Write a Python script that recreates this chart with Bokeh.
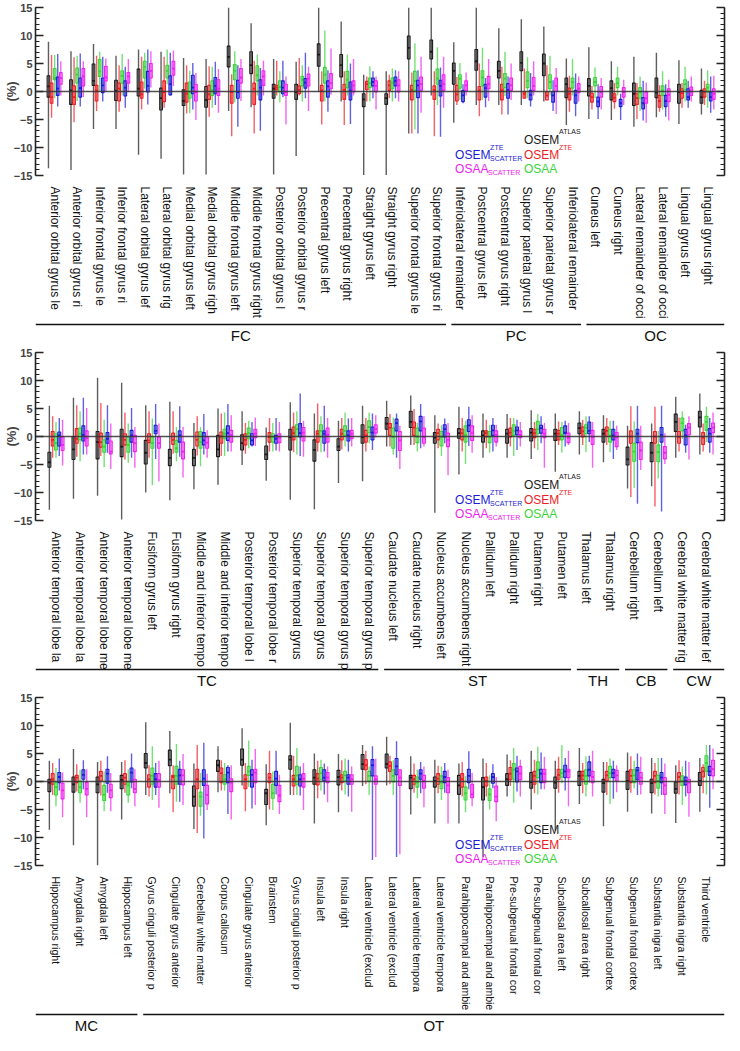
import numpy as np
from bokeh.plotting import figure
from bokeh.layouts import column
from bokeh.models import Range1d, LinearAxis, FixedTicker, Span
from bokeh.embed import file_html
from bokeh.resources import INLINE
from bokeh.core.properties import value

FONT = "Liberation Sans"
COLORS = ["#1a1a1a", "#ee1c25", "#3ad43a", "#1c1cd6", "#ee22ee"]
OFFSETS = [-0.274, -0.137, 0.0, 0.137, 0.274]
BOX_W = 0.12
MAJOR_TICKS = [-15, -10, -5, 0, 5, 10, 15]

# ---------------- Panel 1 ----------------
p1_labels = ["Anterior orbital gyrus le", "Anterior orbital gyrus ri", "Inferior frontal gyrus le",
             "Inferior frontal gyrus ri", "Lateral orbital gyrus lef", "Lateral orbital gyrus rig",
             "Medial orbital gyrus left", "Medial orbital gyrus righ", "Middle frontal gyrus left",
             "Middle frontal gyrus right", "Posterior orbital gyrus l", "Posterior orbital gyrus r",
             "Precentral gyrus left", "Precentral gyrus right", "Straight gyrus left",
             "Straight gyrus right", "Superior frontal gyrus le", "Superior frontal gyrus ri",
             "Inferiolateral remainder", "Postcentral gyrus left", "Postcentral gyrus right",
             "Superior parietal gyrus l", "Superior parietal gyrus r", "Inferiolateral remainder",
             "Cuneus left", "Cuneus right", "Lateral remainder of occi", "Lateral remainder of occi",
             "Lingual gyrus left", "Lingual gyrus right"]
p1_groups = ["FC", "PC", "OC"]
p1_group_sizes = [18, 6, 6]

p1_atlas_hi = [8.9, 7.2, 8.5, 6.4, 7.5, 7.1, 6.0, 5.8, 15.0, 12.2, 5.8, 5.3, 15.0, 12.5, 3.0, 3.6, 15.0, 15.0, 8.8, 15.0, 11.3, 12.9, 11.6, 5.9, 7.9, 5.4, 6.2, 6.9, 5.6, 4.1]
p1_atlas_q3 = [2.8, 2.1, 4.9, 2.0, 4.0, 0.6, 0.3, 0.9, 8.1, 7.1, 1.3, 1.3, 8.5, 6.6, -0.4, -0.4, 9.9, 9.2, 5.1, 7.5, 5.4, 7.1, 6.7, 2.4, 2.3, 1.9, 1.5, 2.4, 1.3, 0.2]
p1_atlas_med = [0.9, 0.2, 1.9, 0.1, 0.5, -1.2, -1.7, -1.5, 6.2, 4.7, 0.5, -0.1, 6.6, 4.7, -1.4, -1.2, 7.8, 7.1, 3.7, 5.4, 3.7, 5.1, 5.0, 1.3, 1.0, 0.6, -0.4, -0.2, -0.1, -1.0]
p1_atlas_q1 = [-1.0, -2.3, 1.1, -1.6, -0.8, -3.3, -2.5, -2.8, 4.4, 3.2, -1.2, -1.4, 4.5, 2.6, -2.7, -2.3, 5.8, 5.8, 1.3, 3.8, 2.4, 3.7, 2.8, -1.1, -0.8, -1.5, -2.5, -1.1, -2.1, -2.1]
p1_atlas_lo = [-13.7, -14.0, -6.7, -6.7, -11.3, -12.0, -14.8, -14.8, -3.5, -2.8, -14.8, -11.5, -0.1, -1.8, -14.9, -14.9, -7.5, -0.7, -5.6, -2.4, -2.4, -2.4, -1.8, -6.0, -4.9, -5.1, -6.3, -4.6, -5.8, -4.1]

p1_zte_hi = [6.5, 6.1, 6.4, 4.7, 6.2, 6.2, 4.7, 4.5, 3.1, 5.5, 5.5, 6.0, 3.6, 3.6, 2.7, 3.0, 3.4, 3.6, 2.6, 5.0, 4.4, 4.1, 4.7, 2.8, 1.0, 1.5, 1.5, 1.1, 1.5, 1.9]
p1_zte_q3 = [1.5, 1.0, 1.1, 1.5, 1.7, 1.9, 1.5, 1.1, 1.1, 1.5, 1.1, 1.0, 1.1, 1.3, 1.8, 1.9, 1.1, 1.0, 1.1, 0.9, 1.3, 0.0, -0.1, 0.6, -0.3, -0.4, -0.4, -0.7, 0.5, 0.5]
p1_zte_med = [-1.0, -1.0, 0.2, 0.5, -0.5, -0.1, -0.4, -0.5, -0.1, 0.5, 0.7, 0.3, 0.2, 0.3, 1.3, 1.1, 0.3, 0.3, -0.5, 0.2, 0.2, -0.4, -0.7, -0.4, -1.0, -1.1, -1.2, -1.7, -0.3, -0.1]
p1_zte_q1 = [-2.1, -2.3, -1.7, -1.7, -1.2, -1.8, -1.9, -1.4, -2.1, -2.3, 0.3, -0.4, -1.7, -1.4, 0.3, 0.2, -1.5, -1.4, -1.7, -1.5, -1.5, -1.2, -1.5, -1.5, -1.9, -1.8, -2.3, -2.8, -1.2, -1.0]
p1_zte_lo = [-4.7, -5.5, -3.5, -3.6, -3.2, -2.9, -3.9, -4.5, -8.0, -7.5, -0.7, -0.7, -5.9, -6.0, -1.8, -1.2, -7.5, -8.0, -2.4, -4.4, -4.1, -1.2, -1.2, -3.6, -3.2, -3.1, -4.9, -3.6, -2.9, -2.4]

p1_osaa_hi = [6.5, 6.4, 7.1, 6.7, 6.9, 7.5, 3.7, 4.4, 7.2, 6.6, 3.6, 4.7, 10.9, 6.6, 4.5, 4.1, 8.6, 7.9, 5.1, 7.8, 7.1, 6.1, 6.4, 5.8, 4.3, 4.4, 2.7, 3.6, 4.4, 3.8]
p1_osaa_q3 = [4.1, 4.2, 5.7, 3.7, 5.4, 4.7, 1.7, 1.9, 4.8, 4.6, 1.9, 2.7, 4.3, 3.6, 2.4, 2.4, 3.6, 4.0, 3.0, 3.7, 3.2, 3.5, 3.0, 2.4, 2.5, 2.4, 0.7, 1.0, 2.1, 1.3]
p1_osaa_med = [2.4, 3.0, 3.6, 2.8, 4.4, 3.7, -0.1, 0.3, 3.7, 2.9, 0.8, 2.1, 3.0, 2.1, 1.5, 1.6, 1.9, 2.3, 2.3, 2.5, 2.3, 1.9, 1.7, 1.7, 1.7, 1.5, -0.1, 0.2, 1.3, 0.7]
p1_osaa_q1 = [2.1, 1.5, 2.7, 1.5, 2.4, 2.4, -1.2, -0.7, 2.1, 1.9, -0.1, 1.0, 1.5, 0.7, 0.7, 0.5, 0.2, 1.3, 0.6, 1.0, 0.7, 0.7, 0.5, 0.6, 1.0, 0.7, -1.2, -0.7, 0.3, -0.1]
p1_osaa_lo = [-1.2, -1.7, -0.1, -0.7, 0.5, 1.3, -3.9, -2.9, -1.9, -0.7, -1.9, -1.8, -1.8, -0.7, -1.8, -1.8, -6.8, -2.4, -1.5, -1.5, -0.8, -1.2, -0.7, -0.7, -1.2, -0.7, -3.5, -3.2, -1.8, -2.9]

p1_zsc_hi = [6.7, 6.8, 6.2, 4.4, 7.5, 6.9, 5.1, 5.3, 4.7, 4.2, 5.5, 6.9, 3.8, 5.0, 3.6, 3.8, 3.8, 4.3, 1.3, 2.4, 2.7, 3.3, 2.0, 3.2, 1.3, -0.4, 1.9, 1.3, 1.9, 2.7]
p1_zsc_q3 = [2.6, 2.4, 2.4, 1.9, 3.6, 2.8, 2.9, 2.5, 2.0, 2.1, 1.9, 2.3, 1.9, 1.7, 2.4, 2.6, 2.0, 2.0, 0.2, 1.3, 1.4, 0.2, 0.0, 0.2, -1.0, -1.4, -1.1, -0.7, 0.5, -0.1]
p1_zsc_med = [0.5, 0.6, 1.1, 0.7, 1.0, 1.3, 0.7, 1.0, -0.1, 0.7, 0.7, 1.6, 0.9, 0.2, 1.7, 1.9, 1.1, 1.0, -0.7, 0.6, 0.3, -0.6, -0.7, -0.7, -1.8, -2.1, -2.1, -1.7, -1.0, -1.0]
p1_zsc_q1 = [-0.7, -1.0, -0.2, -0.8, -0.1, -0.6, -0.4, -0.4, -1.2, -1.5, -0.4, 0.6, -1.0, -1.5, 1.0, 1.0, -1.1, -0.8, -1.8, -1.0, -1.2, -1.5, -1.9, -2.1, -2.7, -2.7, -3.1, -2.7, -1.5, -1.7]
p1_zsc_lo = [-2.7, -2.7, -1.8, -2.9, -2.3, -0.7, -3.2, -2.4, -6.3, -7.0, -1.0, -1.2, -3.6, -5.8, -1.2, -1.2, -7.5, -8.1, -2.1, -2.8, -4.1, -2.7, -3.5, -4.4, -4.9, -5.1, -5.2, -4.5, -2.9, -3.8]

p1_asc_hi = [5.4, 5.4, 5.9, 5.8, 7.2, 7.3, 3.3, 4.0, 5.8, 5.5, 2.7, 4.4, 7.7, 5.8, 2.7, 3.6, 6.2, 6.2, 3.4, 5.8, 5.0, 5.4, 4.2, 2.7, 2.4, 2.1, 1.6, 2.1, 2.7, 2.8]
p1_asc_q3 = [3.4, 4.1, 4.5, 3.4, 5.0, 5.4, 1.3, 2.1, 4.1, 3.7, 1.3, 3.1, 3.2, 1.9, 1.9, 2.1, 2.6, 3.0, 1.9, 2.7, 2.4, 2.5, 2.4, 1.4, 0.9, 0.7, -0.1, 0.5, 0.8, 0.5]
p1_asc_med = [2.4, 2.7, 2.5, 2.7, 3.7, 4.1, -0.1, 0.5, 2.5, 2.7, -0.1, 2.3, 1.5, 1.1, 1.0, 1.1, 1.3, 1.3, 1.1, 1.3, 1.1, 1.0, 1.0, 0.5, -0.1, -0.1, -1.2, -0.6, 0.0, -0.4]
p1_asc_q1 = [1.3, 1.0, 1.9, 1.5, 2.4, 2.9, -1.7, -0.7, 1.5, 1.1, -0.7, 1.0, 0.5, -0.1, -0.1, -0.1, 0.2, 0.2, 0.2, 0.5, 0.2, 0.2, 0.0, -0.2, -1.0, -1.0, -2.1, -1.8, -0.7, -1.4]
p1_asc_lo = [-0.7, -1.0, -0.1, -0.1, 0.7, 1.0, -5.1, -3.8, -1.7, -0.7, -5.9, -3.5, -0.6, -0.7, -3.2, -1.8, -3.8, -2.9, -0.7, -1.7, -1.5, -0.7, -4.0, -1.8, -3.2, -2.4, -5.6, -5.2, -1.8, -3.2]

# ---------------- Panel 2 ----------------
p2_labels = ["Anterior temporal lobe la", "Anterior temporal lobe la", "Anterior temporal lobe me",
             "Anterior temporal lobe me", "Fusiform gyrus left", "Fusiform gyrus right",
             "Middle and inferior tempo", "Middle and inferior tempo", "Posterior temporal lobe l",
             "Posterior temporal lobe r", "Superior temporal gyrus", "Superior temporal gyrus",
             "Superior temporal gyrus p", "Superior temporal gyrus p", "Caudate nucleus left",
             "Caudate nucleus right", "Nucleus accumbens left", "Nucleus accumbens right",
             "Pallidum left", "Pallidum right", "Putamen right", "Putamen left", "Thalamus left",
             "Thalamus right", "Cerebellum right", "Cerebellum left", "Cerebral white matter rig",
             "Cerebral white matter lef"]
p2_groups = ["TC", "ST", "TH", "CB", "CW"]
p2_group_sizes = [14, 8, 2, 2, 2]

p2_atlas_hi = [5.5, 6.9, 10.5, 9.6, 5.6, 6.2, 2.4, 5.0, 4.5, 1.6, 6.1, 4.1, 2.8, 5.5, 6.4, 7.3, 3.8, 5.3, 4.1, 4.0, 4.7, 4.1, 4.5, 3.8, 1.9, 2.3, 7.1, 7.7]
p2_atlas_q3 = [-2.8, 0.0, 0.9, 1.3, -0.7, -2.3, -2.3, 0.2, 0.3, -1.7, 1.3, -0.6, -0.4, 2.1, 3.4, 4.5, 0.7, 1.4, 1.0, 1.3, 1.4, 1.3, 2.4, 1.3, -1.9, -1.1, 4.0, 4.5]
p2_atlas_med = [-4.6, -2.3, -1.0, -1.8, -2.9, -3.8, -3.8, -2.3, -1.2, -3.2, -0.1, -2.4, -1.8, -0.1, 2.3, 2.6, -0.2, 0.6, 0.2, 0.5, 0.7, 0.5, 1.5, 0.5, -4.1, -2.9, 2.6, 3.4]
p2_atlas_q1 = [-5.5, -4.1, -4.0, -3.6, -4.9, -5.2, -5.2, -3.6, -2.4, -4.1, -2.4, -4.4, -2.5, -1.2, 1.3, 1.6, -1.2, -0.3, -1.0, -1.2, -0.8, -0.7, 0.5, -1.0, -5.1, -4.5, 0.9, 1.7]
p2_atlas_lo = [-13.1, -11.1, -10.6, -14.8, -10.0, -11.4, -9.4, -8.6, -5.1, -7.9, -11.3, -13.0, -8.3, -8.0, -1.8, -1.5, -13.6, -6.8, -3.8, -3.8, -4.0, -6.3, -3.2, -4.6, -9.3, -8.9, -3.8, -3.2]

p2_zte_hi = [3.6, 5.6, 6.0, 4.3, 4.5, 4.5, 3.6, 4.1, 2.4, 3.3, 4.3, 5.9, 3.3, 3.3, 4.0, 4.9, 2.3, 3.3, 3.0, 3.3, 2.6, 2.7, 3.0, 3.3, 5.4, 5.3, 3.4, 2.3]
p2_zte_q3 = [0.9, 1.4, 0.6, 0.5, 0.5, 0.6, 0.8, 0.8, 0.5, 0.7, 1.7, 1.0, 1.3, 1.1, 2.3, 2.6, 1.3, 1.3, 1.0, 1.5, 1.3, 1.1, 1.7, 1.7, 1.0, 0.9, 0.9, 0.7]
p2_zte_med = [-0.6, -0.4, -1.0, -0.6, -0.7, -0.6, -0.6, 0.0, -0.6, -0.1, 0.6, 0.5, 0.5, 0.2, 1.6, 1.6, 0.6, 0.6, 0.6, 0.7, 0.6, 0.5, 0.9, 1.0, 0.0, 0.0, -0.1, -0.2]
p2_zte_q1 = [-1.7, -1.2, -1.9, -1.5, -1.1, -1.4, -1.7, -1.2, -1.5, -1.0, -0.6, -1.0, -0.6, -1.0, 0.2, 0.2, -0.6, -0.6, -0.1, -0.1, -0.2, -0.6, -0.1, 0.0, -1.2, -1.2, -1.2, -1.4]
p2_zte_lo = [-3.8, -3.6, -3.5, -4.1, -3.8, -3.1, -3.4, -3.5, -3.1, -2.7, -2.8, -2.7, -2.3, -2.7, -1.8, -1.5, -2.1, -2.7, -2.1, -1.8, -2.1, -1.5, -1.5, -1.5, -10.8, -12.5, -2.7, -2.7]

p2_osaa_hi = [2.6, 4.5, 3.0, 2.3, 3.2, 1.7, 1.7, 4.3, 2.8, 2.4, 4.5, 3.6, 4.3, 4.3, 3.4, 2.4, 2.0, 2.8, 2.1, 3.3, 4.0, 2.6, 3.6, 2.8, 2.7, 1.0, 4.5, 5.3]
p2_osaa_q3 = [0.5, 1.5, -0.6, -0.1, 0.0, -0.7, 0.9, 1.3, 1.5, 0.5, 2.1, 2.1, 1.9, 2.8, 1.5, 1.5, 0.9, 1.9, 0.9, 2.1, 2.7, 1.6, 2.1, 1.3, -1.2, -1.5, 3.3, 3.6]
p2_osaa_med = [-1.2, 0.5, -1.8, -1.5, -1.2, -2.1, -1.0, 0.5, 0.6, -0.1, 1.3, 1.0, 1.0, 1.7, -0.1, 0.0, -0.1, 0.3, -0.1, 1.0, 1.3, 0.3, 1.6, 0.2, -2.7, -2.8, 2.4, 2.6]
p2_osaa_q1 = [-2.4, -0.6, -2.8, -2.8, -2.1, -2.8, -2.1, -0.4, -0.4, -1.0, 0.0, -0.1, 0.2, 0.7, -2.1, -1.1, -1.7, -1.0, -1.1, 0.2, 0.5, -0.6, 0.5, -1.0, -4.4, -4.5, 1.0, 1.1]
p2_osaa_lo = [-3.8, -4.4, -5.5, -4.7, -8.7, -4.4, -5.3, -3.5, -2.1, -2.7, -3.2, -2.8, -1.8, -1.2, -3.2, -2.7, -3.5, -4.9, -2.9, -3.5, -2.4, -2.9, -2.8, -2.8, -9.2, -7.5, -0.4, -1.0]

p2_zsc_hi = [3.3, 6.9, 5.6, 5.1, 5.8, 5.4, 4.0, 5.8, 2.6, 3.3, 7.7, 5.5, 3.2, 4.1, 4.1, 5.8, 3.2, 5.3, 3.3, 3.0, 3.6, 2.8, 3.6, 2.8, 5.5, 5.5, 2.1, 3.3]
p2_zsc_q3 = [0.8, 1.9, 0.7, 1.1, 2.0, 1.0, 0.7, 1.9, 0.5, 0.2, 2.3, 1.0, 1.0, 1.7, 3.1, 3.6, 2.1, 3.0, 2.0, 1.7, 2.0, 1.9, 2.6, 1.3, 1.3, 1.6, 1.3, 1.4]
p2_zsc_med = [0.2, 0.3, -0.4, 0.2, 1.0, 0.2, -0.7, 0.6, -0.7, -0.4, 0.6, 0.5, 0.2, 0.7, 2.4, 2.7, 1.3, 2.0, 1.1, 1.1, 1.5, 0.7, 1.0, 0.2, 0.5, 0.3, 0.2, 0.5]
p2_zsc_q1 = [-1.7, -0.8, -1.2, -1.0, 0.5, -1.0, -1.5, -0.7, -1.5, -1.2, -0.1, -1.2, -0.8, -0.6, 1.0, 1.0, -0.1, 0.9, 0.2, 0.3, 0.6, 0.5, 0.5, -0.6, -1.1, -1.0, -1.5, -1.0]
p2_zsc_lo = [-3.5, -3.2, -2.9, -3.8, -4.0, -3.6, -3.2, -2.7, -1.8, -2.5, -3.5, -2.7, -2.7, -2.4, -3.8, -2.1, -1.2, -1.7, -2.7, -2.4, -1.2, -1.8, -1.0, -4.0, -12.0, -13.4, -2.9, -2.9]

p2_asc_hi = [3.0, 5.1, 2.3, 1.7, 2.3, 1.7, 1.1, 3.8, 3.4, 2.6, 2.8, 3.3, 3.3, 3.8, 1.9, 3.6, 2.4, 3.8, 2.1, 2.6, 2.4, 2.4, 2.6, 1.9, 1.9, 0.6, 3.6, 4.3]
p2_asc_q3 = [-0.1, 1.0, -0.8, 0.2, -0.1, -1.0, -0.1, 1.1, 1.3, 0.5, 1.6, 1.5, 1.1, 2.1, 0.9, 1.5, 0.6, 1.9, 1.0, 1.0, 1.3, 0.6, 1.1, 0.7, -1.0, -1.8, 2.3, 2.4]
p2_asc_med = [-1.5, -0.3, -2.7, -1.2, -1.2, -2.7, -1.1, 0.3, 0.5, -0.2, 0.7, 0.3, 0.5, 1.3, -0.7, -0.1, -0.6, 0.6, 0.3, 0.3, 0.5, -0.2, -0.1, -0.1, -2.5, -2.9, 1.6, 1.6]
p2_asc_q1 = [-2.5, -1.7, -3.1, -2.7, -2.1, -4.0, -2.1, -1.0, -0.2, -1.1, -0.8, -1.0, -0.4, 0.6, -2.5, -1.2, -1.8, -0.7, -1.0, -0.2, -0.2, -1.1, -1.4, -1.8, -4.1, -4.0, 0.3, 0.7]
p2_asc_lo = [-5.2, -3.2, -5.8, -5.6, -8.0, -7.3, -3.8, -2.7, -1.7, -2.7, -3.6, -3.8, -1.8, -0.2, -5.8, -1.8, -6.9, -2.9, -1.8, -1.8, -5.6, -1.5, -5.6, -2.4, -6.0, -4.9, -4.1, -3.2]

# ---------------- Panel 3 ----------------
p3_labels = ["Hippocampus right", "Amygdala right", "Amygdala left", "Hippocampus left",
             "Gyrus cinguli posterior p", "Cingulate gyrus anterior", "Cerebellar white matter",
             "Corpus callosum", "Cingulate gyrus anterior", "Brainstem", "Gyrus cinguli posterior p",
             "Insula left", "Insula right", "Lateral ventricle (exclud", "Lateral ventricle (exclud",
             "Lateral ventricle tempora", "Lateral ventricle tempora", "Parahippocampal and ambie",
             "Parahippocampal and ambie", "Pre-subgenual frontal cor", "Pre-subgenual frontal cor",
             "Subcallosal area left", "Subcallosal area right", "Subgenual frontal cortex",
             "Subgenual frontal cortex", "Substantia nigra left", "Substantia nigra right",
             "Third ventricle"]
p3_groups = ["MC", "OT"]
p3_group_sizes = [4, 24]

p3_atlas_hi = [3.7, 5.8, 3.5, 3.5, 10.6, 9.0, 3.2, 6.3, 9.5, 3.1, 10.5, 5.0, 4.9, 6.5, 8.0, 4.5, 3.9, 3.2, 4.1, 4.8, 5.5, 3.7, 6.0, 3.5, 5.2, 4.2, 2.9, 4.2]
p3_atlas_q3 = [0.4, 0.8, 0.8, 1.1, 5.0, 5.6, -0.8, 3.8, 5.8, -1.4, 4.6, 2.1, 2.0, 4.8, 4.9, 1.1, 0.8, 1.1, 0.7, 1.4, 1.6, 0.8, 1.8, 0.4, 1.8, 0.4, -0.1, 1.6]
p3_atlas_med = [-0.2, -0.5, -0.5, 0.3, 3.3, 3.9, -2.7, 2.9, 3.9, -2.1, 3.9, 0.7, 0.8, 3.1, 3.1, 0.7, 0.1, -0.7, -1.0, 0.4, -0.1, -0.2, 1.0, -0.3, 0.1, -0.3, -1.3, 0.1]
p3_atlas_q1 = [-1.8, -1.9, -2.0, -1.3, 2.4, 2.8, -4.4, 1.8, 2.9, -4.1, 2.2, -0.5, -0.6, 2.2, 2.4, -1.3, -1.0, -2.3, -3.3, -0.7, -1.2, -1.2, -0.7, -1.9, -1.4, -2.0, -2.1, -0.7]
p3_atlas_lo = [-8.6, -11.4, -15.0, -6.8, -2.4, -2.1, -8.5, -1.9, -0.7, -7.8, -2.4, -7.5, -5.5, -0.8, -0.7, -5.9, -7.5, -7.5, -13.5, -2.7, -5.0, -8.8, -4.0, -8.0, -5.4, -5.7, -7.4, -5.4]

p3_zte_hi = [3.3, 3.1, 3.7, 3.8, 2.9, 2.9, 6.5, 3.8, 3.3, 5.5, 4.6, 3.7, 3.8, 5.5, 4.6, 3.2, 2.8, 3.5, 3.3, 3.8, 3.9, 4.4, 3.3, 3.5, 4.5, 3.3, 3.8, 3.1]
p3_zte_q3 = [1.4, 1.1, 1.8, 1.4, 1.2, 1.1, 2.2, 2.4, 1.2, 1.4, 1.1, 1.4, 1.2, 3.9, 3.5, 1.1, 1.4, 1.4, 0.8, 2.5, 1.8, 2.2, 1.8, 1.8, 2.1, 1.8, 1.6, 2.5]
p3_zte_med = [0.4, 0.7, 1.0, 0.7, 0.4, 0.8, 0.4, 1.5, 0.4, 0.7, 0.4, 0.5, 0.7, 2.9, 2.8, 0.4, 0.5, 0.4, 0.1, 1.4, 1.0, 1.2, 1.1, 1.1, 1.0, 1.0, 0.8, 1.8]
p3_zte_q1 = [-0.5, -0.2, 0.1, -0.5, -1.0, -1.3, -1.3, -0.2, -1.3, -0.2, -0.8, -0.6, -0.2, 2.1, 1.8, -0.5, -0.5, -1.0, -0.8, 0.3, -0.5, 0.4, 0.3, 0.1, -0.2, -0.2, -0.1, 0.8]
p3_zte_lo = [-2.4, -1.8, -2.5, -2.0, -2.7, -5.5, -9.2, -1.6, -5.3, -5.0, -2.4, -3.0, -1.6, -0.5, -0.5, -2.0, -2.1, -2.7, -2.7, -0.8, -2.1, -2.0, -2.1, -2.4, -2.0, -2.3, -2.3, -2.1]

p3_osaa_hi = [2.4, 2.1, 1.8, 2.2, 6.3, 6.7, 1.5, 3.3, 7.3, 1.8, 6.0, 3.9, 4.1, 2.7, 3.8, 2.1, 2.7, 1.0, 1.1, 6.0, 6.2, 6.5, 4.5, 4.1, 3.7, 4.2, 2.7, 6.5]
p3_osaa_q3 = [-0.2, 0.1, -0.7, -0.2, 2.4, 2.7, -1.9, 1.2, 2.7, -0.5, 2.7, 2.5, 1.8, 1.8, 2.1, 0.8, 1.0, -1.0, -1.3, 3.2, 3.5, 2.2, 2.1, 2.7, 2.1, 1.1, 1.0, 4.6]
p3_osaa_med = [-1.0, -1.0, -2.4, -0.7, 1.0, 1.0, -2.7, 0.4, 1.8, -2.1, 1.1, 1.5, 1.1, 1.0, 1.0, -0.2, -0.2, -2.1, -2.3, 2.1, 2.1, 1.5, 1.0, 1.5, 1.1, 0.1, 0.1, 3.3]
p3_osaa_q1 = [-2.4, -2.0, -3.4, -2.4, -0.5, -0.5, -4.4, -0.5, 1.1, -3.0, -0.5, 0.4, 0.1, 0.1, -0.1, -1.0, -1.3, -3.3, -3.4, 0.4, 0.7, 0.8, -0.5, 0.7, -0.2, -1.2, -0.7, 1.8]
p3_osaa_lo = [-4.4, -3.8, -5.3, -3.8, -3.3, -3.6, -6.1, -1.6, -1.0, -5.1, -2.4, -1.6, -2.3, -2.4, -2.4, -3.0, -3.3, -5.5, -5.0, -3.8, -2.3, -0.3, -2.7, -4.0, -1.2, -2.7, -4.2, -2.3]

p3_zsc_hi = [4.1, 3.8, 4.5, 5.0, 3.3, 3.7, 6.9, 2.9, 3.9, 5.5, 2.7, 3.2, 3.9, 6.3, 7.2, 3.5, 3.3, 5.4, 3.1, 4.6, 5.2, 4.2, 4.6, 3.7, 5.0, 4.2, 3.7, 6.5]
p3_zsc_q3 = [1.6, 2.1, 2.2, 2.4, 1.4, 2.2, 2.1, 2.5, 2.1, 1.8, 1.2, 2.1, 1.2, 3.9, 4.1, 2.1, 1.8, 2.2, 1.4, 2.4, 2.2, 2.9, 3.5, 2.2, 2.5, 1.6, 0.8, 2.7]
p3_zsc_med = [0.8, 1.2, 1.4, 1.6, 0.4, 1.1, 0.5, 1.6, 1.2, 0.5, 0.4, 0.7, 0.7, 2.9, 2.7, 1.4, 0.8, 1.0, 0.8, 1.8, 1.4, 1.8, 2.1, 1.5, 2.0, 0.7, 0.1, 1.8]
p3_zsc_q1 = [-0.2, 0.4, -0.3, -0.1, -1.0, -0.5, -0.7, -0.2, -1.0, -0.7, -0.8, 0.1, -0.5, 1.0, 1.2, 0.4, -0.2, -0.2, -0.3, -0.1, -0.2, 0.7, 1.0, 0.7, 0.3, -0.2, -0.6, 1.1]
p3_zsc_lo = [-1.6, -1.4, -2.0, -1.2, -2.4, -3.6, -10.2, -5.8, -4.8, -2.3, -2.5, -2.3, -2.7, -14.0, -13.5, -2.1, -2.0, -1.4, -1.2, -1.8, -1.4, -1.6, -0.2, -3.1, -2.4, -2.4, -2.7, -4.7]

p3_asc_hi = [1.6, 2.2, 1.5, 2.2, 3.7, 4.9, 1.4, 2.9, 5.8, 1.2, 3.3, 2.7, 2.7, 4.1, 2.1, 2.7, 2.1, 1.5, 0.8, 3.9, 4.4, 5.5, 5.5, 2.9, 4.4, 3.2, 3.5, 5.9]
p3_asc_q3 = [-0.3, -0.2, -0.5, 0.4, 1.4, 2.1, -0.7, 0.5, 2.2, -0.7, 1.4, 1.6, 1.2, 1.0, 2.1, 1.1, 0.7, -0.5, -0.8, 2.7, 2.2, 2.2, 1.8, 2.0, 1.6, 0.7, 0.4, 3.8]
p3_asc_med = [-1.6, -1.3, -1.6, -1.3, 0.3, 1.1, -2.4, -0.2, 1.6, -2.5, 0.5, 0.7, 0.4, 0.4, 0.7, 0.1, -0.7, -2.3, -2.7, 1.4, 1.4, 1.8, 0.8, 1.1, 0.7, -0.7, -0.2, 2.2]
p3_asc_q1 = [-3.1, -2.4, -2.9, -2.0, -1.0, -0.6, -4.0, -1.8, -0.2, -3.6, -1.0, -0.2, -0.5, -0.5, -0.7, -1.2, -2.0, -2.9, -3.6, 0.3, -0.2, 0.7, -0.2, 0.1, -0.5, -2.3, -2.0, 1.0]
p3_asc_lo = [-6.4, -6.4, -5.3, -4.4, -4.7, -4.2, -5.1, -6.8, -4.2, -5.8, -5.1, -3.7, -5.4, -13.5, -13.0, -4.6, -7.5, -4.4, -7.1, -2.7, -1.4, -4.4, -2.7, -1.9, -2.3, -5.8, -6.3, -1.4]

# legend entries: (main text, superscript, subscript, colour index, x fraction, y value)
legend_entries = [
    ("OSEM", "ATLAS", None, 0, 0.709, -8.6),
    ("OSEM", "ZTE", None, 1, 0.709, -11.4),
    ("OSAA", None, None, 2, 0.709, -13.9),
    ("OSEM", "ZTE", "SCATTER", 3, 0.609, -11.4),
    ("OSAA", None, "SCATTER", 4, 0.609, -13.9),
]

W = 730
HA = 182
HB = 163
ML = 30
MR = 6


def style_axis(ax):
    ax.ticker = FixedTicker(ticks=MAJOR_TICKS, minor_ticks=list(range(-15, 16)))
    ax.major_tick_in = 8
    ax.major_tick_out = 0
    ax.minor_tick_in = 4
    ax.minor_tick_out = 0
    ax.axis_line_width = 1.6
    ax.axis_line_color = "#222222"
    ax.major_tick_line_width = 1.5
    ax.major_tick_line_color = "#222222"
    ax.minor_tick_line_width = 1.1
    ax.minor_tick_line_color = "#222222"


def make_panel(labels, groups, sizes, stats, label_fs):
    n = len(labels)
    for st in stats:
        for arr in st:
            assert len(arr) == n, (labels[0], len(arr), n)
    xr = Range1d(-0.85, n - 0.25)
    pa = figure(width=W, height=HA, x_range=xr, y_range=Range1d(-15, 15),
                output_backend="svg", toolbar_location=None,
                min_border_left=ML, min_border_right=MR, min_border_top=7, min_border_bottom=7,
                x_axis_location=None, y_axis_location="left")
    pa.grid.visible = False
    pa.outline_line_color = None
    ly = pa.yaxis[0]
    style_axis(ly)
    ly.axis_label = "(%)"
    ly.axis_label_text_font = FONT
    ly.axis_label_text_font_size = "13px"
    ly.axis_label_text_font_style = "bold"
    ly.axis_label_standoff = -8
    ly.major_label_text_font = FONT
    ly.major_label_text_font_size = "11px"
    ly.major_label_text_font_style = "bold"
    ly.major_label_standoff = 3
    ry = LinearAxis()
    style_axis(ry)
    ry.major_label_overrides = {t: "" for t in MAJOR_TICKS}
    ry.major_label_standoff = 0
    pa.add_layout(ry, "right")

    idx = np.arange(n)
    for m, (lo, q1, med, q3, hi) in enumerate(stats):
        c = COLORS[m]
        xs = idx + OFFSETS[m]
        pa.segment(xs, lo, xs, hi, line_color=c, line_width=1.4, line_alpha=0.7)
        pa.vbar(x=xs, width=BOX_W, bottom=q1, top=q3, fill_color=c, fill_alpha=0.22,
                line_color=c, line_width=1.1)
        pa.segment(xs - BOX_W / 2, med, xs + BOX_W / 2, med, line_color=c, line_width=1.8)
    pa.add_layout(Span(location=0, dimension="width", line_color="#333333",
                       line_width=1.5, line_alpha=0.85))

    span_x = xr.end - xr.start
    for main, sup, sub, ci, fx, yv in legend_entries:
        x = xr.start + fx * span_x
        c = COLORS[ci]
        pa.text(x=[x], y=[yv], text=[main], text_font=value(FONT), text_font_size="12px",
                text_color=c, text_align="left", text_baseline="alphabetic")
        w = 35 if main == "OSEM" else 33
        if sup:
            pa.text(x=[x], y=[yv], text=[sup], x_offset=w, y_offset=-8, text_font=value(FONT),
                    text_font_size="7px", text_color=c, text_align="left", text_baseline="alphabetic")
        if sub:
            pa.text(x=[x], y=[yv], text=[sub], x_offset=w, y_offset=3, text_font=value(FONT),
                    text_font_size="7px", text_color=c, text_align="left", text_baseline="alphabetic")

    pb = figure(width=W, height=HB, x_range=xr, y_range=Range1d(0, HB),
                output_backend="svg", toolbar_location=None,
                min_border_left=ML, min_border_right=MR, min_border_top=0, min_border_bottom=0,
                x_axis_location=None, y_axis_location=None)
    pb.grid.visible = False
    pb.outline_line_color = None
    pb.text(x=idx, y=[HB - 4] * n, text=labels, angle=-np.pi / 2, text_align="left",
            text_baseline="middle", text_font=value(FONT), text_font_size=label_fs,
            text_color="#111111")
    starts = np.cumsum([0] + sizes[:-1])
    ends = starts + np.array(sizes) - 1
    x0 = [xr.start if s == 0 else s - 0.5 + 0.12 for s in starts]
    x1 = [xr.end if e == n - 1 else e + 0.5 - 0.12 for e in ends]
    pb.segment(x0, [21] * len(groups), x1, [21] * len(groups), line_color="#111111", line_width=1.4)
    mids = [(a + b) / 2 for a, b in zip(x0, x1)]
    pb.text(x=mids, y=[10] * len(groups), text=groups, text_align="center", text_baseline="middle",
            text_font=value(FONT), text_font_size="15px", text_color="#111111")
    return [pa, pb]


p1_stats = [
    (p1_atlas_lo, p1_atlas_q1, p1_atlas_med, p1_atlas_q3, p1_atlas_hi),
    (p1_zte_lo, p1_zte_q1, p1_zte_med, p1_zte_q3, p1_zte_hi),
    (p1_osaa_lo, p1_osaa_q1, p1_osaa_med, p1_osaa_q3, p1_osaa_hi),
    (p1_zsc_lo, p1_zsc_q1, p1_zsc_med, p1_zsc_q3, p1_zsc_hi),
    (p1_asc_lo, p1_asc_q1, p1_asc_med, p1_asc_q3, p1_asc_hi),
]
p2_stats = [
    (p2_atlas_lo, p2_atlas_q1, p2_atlas_med, p2_atlas_q3, p2_atlas_hi),
    (p2_zte_lo, p2_zte_q1, p2_zte_med, p2_zte_q3, p2_zte_hi),
    (p2_osaa_lo, p2_osaa_q1, p2_osaa_med, p2_osaa_q3, p2_osaa_hi),
    (p2_zsc_lo, p2_zsc_q1, p2_zsc_med, p2_zsc_q3, p2_zsc_hi),
    (p2_asc_lo, p2_asc_q1, p2_asc_med, p2_asc_q3, p2_asc_hi),
]
p3_stats = [
    (p3_atlas_lo, p3_atlas_q1, p3_atlas_med, p3_atlas_q3, p3_atlas_hi),
    (p3_zte_lo, p3_zte_q1, p3_zte_med, p3_zte_q3, p3_zte_hi),
    (p3_osaa_lo, p3_osaa_q1, p3_osaa_med, p3_osaa_q3, p3_osaa_hi),
    (p3_zsc_lo, p3_zsc_q1, p3_zsc_med, p3_zsc_q3, p3_zsc_hi),
    (p3_asc_lo, p3_asc_q1, p3_asc_med, p3_asc_q3, p3_asc_hi),
]

figs = []
figs += make_panel(p1_labels, p1_groups, p1_group_sizes, p1_stats, "12px")
figs += make_panel(p2_labels, p2_groups, p2_group_sizes, p2_stats, "12px")
figs += make_panel(p3_labels, p3_groups, p3_group_sizes, p3_stats, "10.5px")

layout = column(*figs, spacing=0)
open("out.html", "w").write(file_html(layout, INLINE))
